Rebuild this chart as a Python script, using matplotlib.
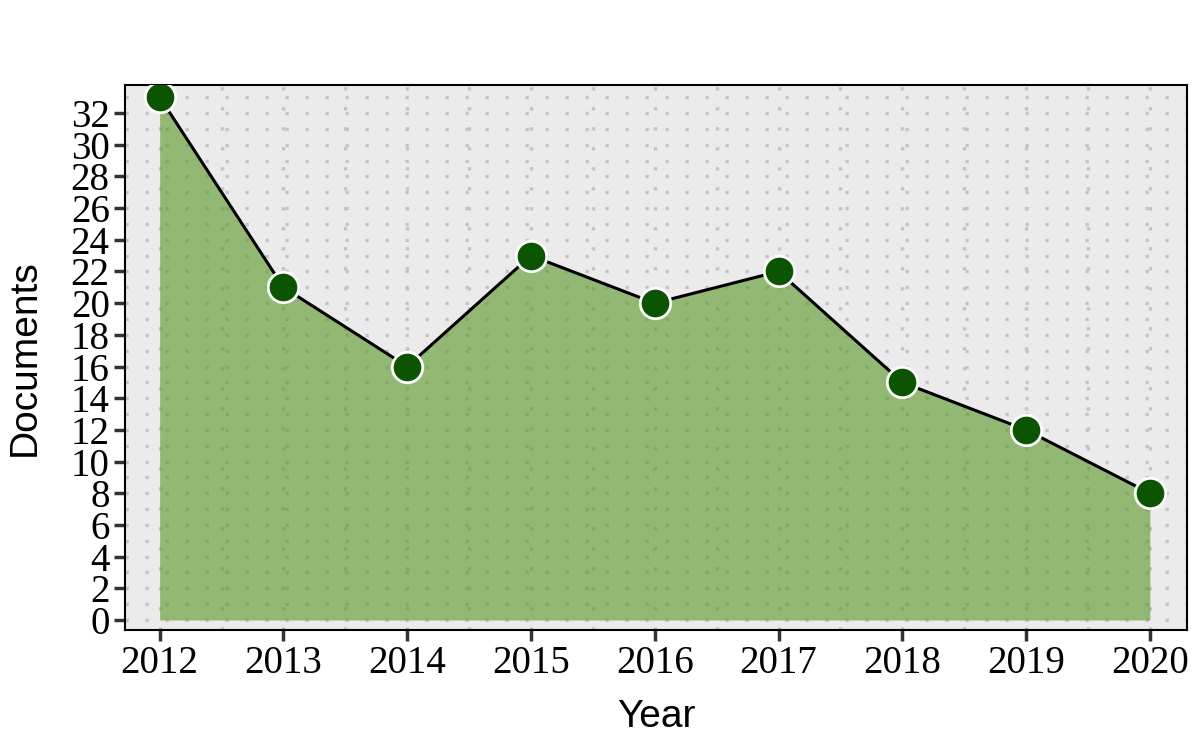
import matplotlib
matplotlib.use('Agg')
import matplotlib.pyplot as plt
from matplotlib.ticker import MultipleLocator

years = [2012, 2013, 2014, 2015, 2016, 2017, 2018, 2019, 2020]
documents = [33, 21, 16, 23, 20, 22, 15, 12, 8]

fig = plt.figure(figsize=(12, 7.5), dpi=100)
ax = fig.add_axes([125 / 1200, 1 - 630 / 750, (1187 - 125) / 1200, (630 - 85) / 750])
ax.set_facecolor('#ebebeb')

# semi-transparent area so the dotted grid shows through
ax.fill_between(years, documents, 0, color='#589625', alpha=0.6, lw=0, zorder=2)
ax.plot(years, documents, color='black', lw=2.2, zorder=3)
ax.scatter(years, documents, s=480, color='#0b5500', edgecolor='white', linewidth=2, zorder=4)

ax.set_xlim(2011.72, 2020.3)
ax.set_ylim(-0.63, 33.77)
ax.set_xticks(years)
ax.yaxis.set_major_locator(MultipleLocator(2))
ax.yaxis.set_minor_locator(MultipleLocator(1))
ax.xaxis.set_minor_locator(MultipleLocator(0.5))

ax.grid(True, which='both', color='#c4c4c4', linestyle=(0, (1, 5)), lw=2.4, zorder=1)
ax.set_axisbelow(True)

for s in ax.spines.values():
    s.set_linewidth(1.5)
ax.tick_params(which='major', length=8, width=2.5, color='#333333', labelsize=28, pad=3)
ax.tick_params(which='minor', length=0)
for lab in ax.get_xticklabels() + ax.get_yticklabels():
    lab.set_fontfamily('Liberation Serif')
ax.set_xlabel('Year', fontsize=28, family='Liberation Sans', labelpad=12)
ax.set_ylabel('Documents', fontsize=28, family='Liberation Sans', labelpad=20)

fig.savefig('out.png', dpi=100)
